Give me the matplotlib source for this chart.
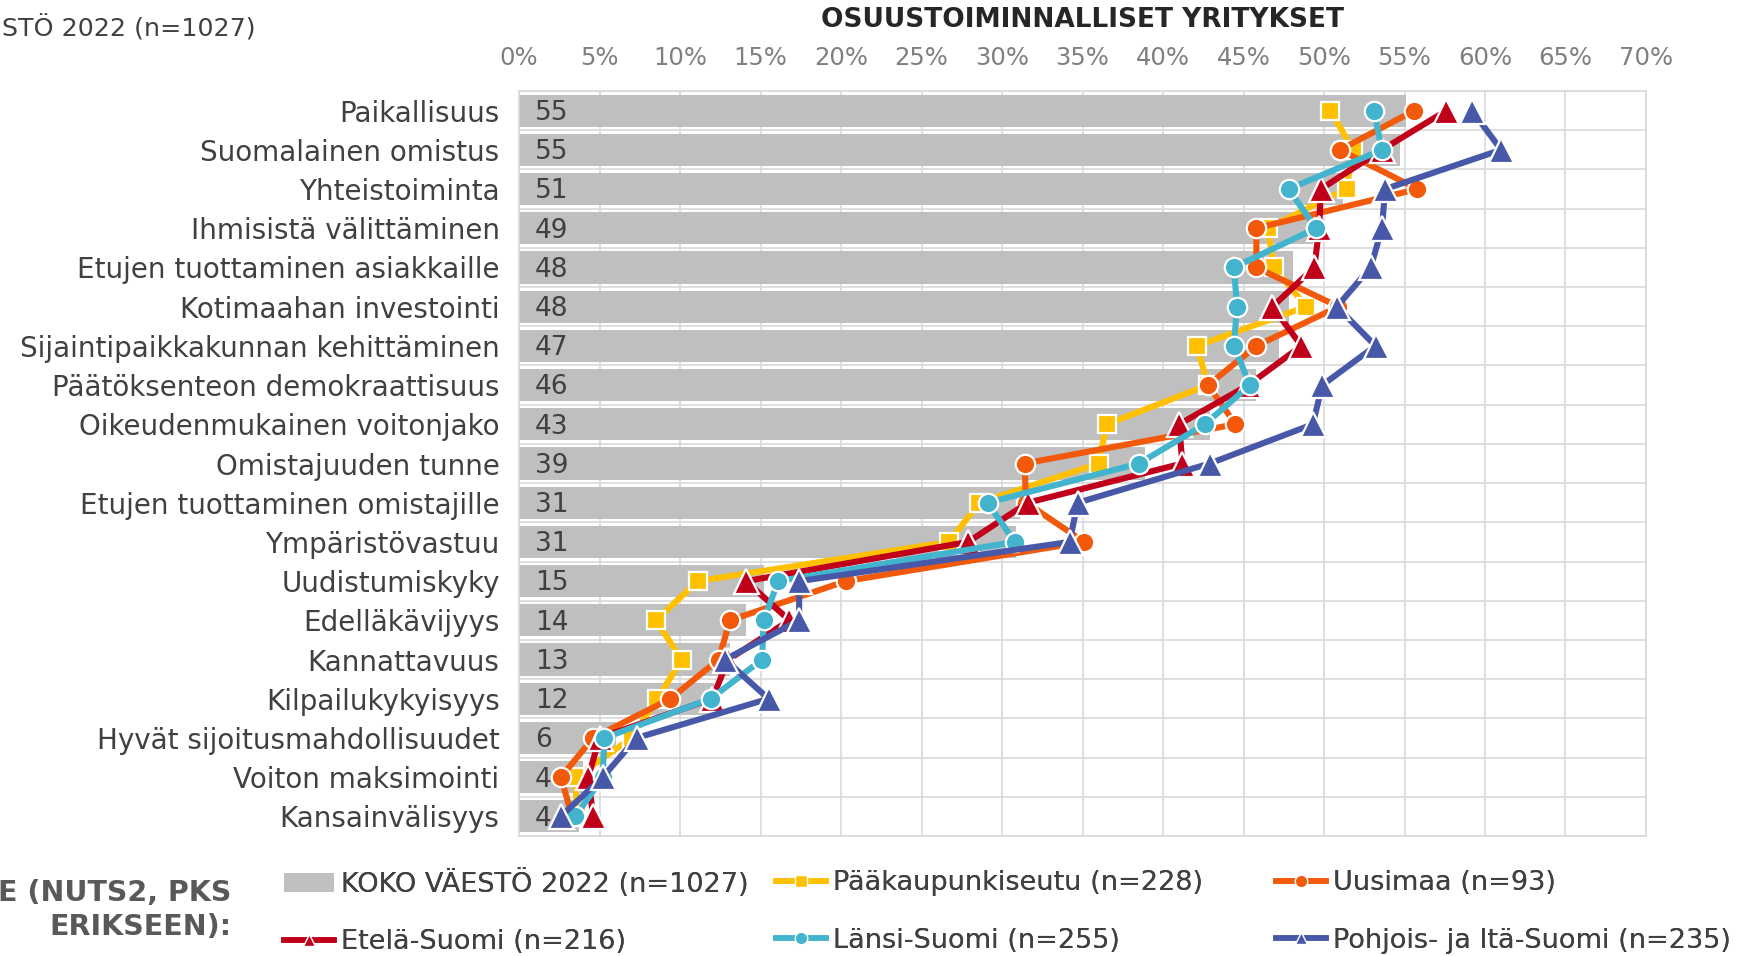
import numpy as np
import matplotlib
matplotlib.use("Agg")
import matplotlib.pyplot as plt
from matplotlib.lines import Line2D
from matplotlib.patches import Patch

plt.rcParams['font.family'] = ['DejaVu Sans']

categories = [
    "Paikallisuus", "Suomalainen omistus", "Yhteistoiminta", "Ihmisistä välittäminen",
    "Etujen tuottaminen asiakkaille", "Kotimaahan investointi",
    "Sijaintipaikkakunnan kehittäminen", "Päätöksenteon demokraattisuus",
    "Oikeudenmukainen voitonjako", "Omistajuuden tunne",
    "Etujen tuottaminen omistajille", "Ympäristövastuu", "Uudistumiskyky",
    "Edelläkävijyys", "Kannattavuus", "Kilpailukykyisyys",
    "Hyvät sijoitusmahdollisuudet", "Voiton maksimointi", "Kansainvälisyys",
]
koko = [55.1, 54.7, 51.2, 49.3, 48.1, 47.8, 47.2, 45.8, 42.9, 38.9, 31.1, 30.9,
        15.2, 14.1, 13.1, 12.1, 6.0, 4.0, 3.7]
pks = [50.4, 51.8, 51.4, 46.5, 46.9, 48.9, 42.1, 42.8, 36.5, 36.0, 28.6, 26.7,
       11.1, 8.5, 10.1, 8.6, 7.0, 3.5, 3.6]
uusimaa = [55.6, 51.0, 55.8, 45.8, 45.8, 50.9, 45.8, 42.8, 44.5, 31.4, 31.5, 35.1,
           20.3, 13.1, 12.4, 9.4, 4.6, 2.6, 3.3]
etela = [57.6, 53.6, 49.8, 49.7, 49.4, 46.8, 48.6, 45.3, 41.0, 41.2, 31.6, 27.9,
         14.1, 16.8, 13.0, 12.0, 5.0, 4.3, 4.6]
lansi = [53.1, 53.6, 47.8, 49.5, 44.4, 44.6, 44.4, 45.4, 42.6, 38.5, 29.1, 30.8,
         16.1, 15.2, 15.1, 11.9, 5.3, 5.2, 3.5]
pohjois = [59.2, 61.0, 53.8, 53.6, 52.9, 50.8, 53.2, 49.9, 49.3, 42.9, 34.7, 34.2,
           17.4, 17.4, 12.8, 15.5, 7.3, 5.2, 2.6]
xticks = list(range(0, 75, 5))

series = [
    ("Pääkaupunkiseutu (n=228)", pks, "#FFC000", "s"),
    ("Uusimaa (n=93)", uusimaa, "#F2590B", "o"),
    ("Etelä-Suomi (n=216)", etela, "#C0001B", "^"),
    ("Länsi-Suomi (n=255)", lansi, "#42B4CE", "o"),
    ("Pohjois- ja Itä-Suomi (n=235)", pohjois, "#4858A9", "^"),
]
msize = {"s": 12.5, "o": 14, "^": 18}

W, H = 1747, 956
fig = plt.figure(figsize=(W / 100, H / 100), dpi=100)
left, right, top, bottom = 519, 1646, 91, 836
ax = fig.add_axes([left / W, 1 - bottom / H, (right - left) / W, (bottom - top) / H])

n = len(categories)
y = np.arange(n)
grid_c = "#D9D9D9"
for b in np.arange(-0.5, n, 1.0):
    ax.axhline(b, color=grid_c, lw=1.2, zorder=0)
ax.barh(y, koko, height=0.82, color="#BFBFBF", zorder=1)
for yi, v in zip(y, koko):
    ax.text(1.0, yi + 0.06, f"{v:.0f}", ha="left", va="center", fontsize=19,
            color="#404040", zorder=2)

for name, vals, col, mk in series:
    ax.plot(vals, y, color=col, lw=4.4, marker=mk, markersize=msize[mk],
            markerfacecolor=col, markeredgecolor="white", markeredgewidth=1.6,
            zorder=3, solid_joinstyle="round")

ax.set_xlim(0, 70)
ax.set_ylim(n - 0.5, -0.5)
ax.set_xticks(xticks)
ax.set_xticklabels([f"{t}%" for t in xticks])
ax.xaxis.tick_top()
ax.xaxis.grid(True, color=grid_c, lw=1.2, zorder=0)
ax.set_axisbelow(True)
ax.tick_params(axis="x", length=0, pad=15, labelsize=17.5, labelcolor="#7F7F7F")
ax.set_yticks(y)
ax.set_yticklabels(categories)
ax.tick_params(axis="y", length=0, pad=14, labelsize=20, labelcolor="#404040")
for s in ax.spines.values():
    s.set_color(grid_c)
    s.set_linewidth(1.2)

fig.text(1082.5 / W, 1 - 20 / H, "OSUUSTOIMINNALLISET YRITYKSET", ha="center",
         va="center", fontsize=19, fontweight="bold", color="#262626")
fig.text(2 / W, 1 - 28 / H, "STÖ 2022 (n=1027)", ha="left", va="center",
         fontsize=18.3, color="#404040")
fig.text(231 / W, 1 - 893 / H, "E (NUTS2, PKS", ha="right", va="center",
         fontsize=20.5, fontweight="bold", color="#595959")
fig.text(231 / W, 1 - 927 / H, "ERIKSEEN):", ha="right", va="center",
         fontsize=20.5, fontweight="bold", color="#595959")

def lh(col, mk):
    return Line2D([], [], color=col, lw=4, marker=mk, markersize=9,
                  markerfacecolor=col, markeredgecolor="white", markeredgewidth=1.0)

cols = [
    ([Patch(facecolor="#BFBFBF"), lh(series[2][2], series[2][3])],
     ["KOKO VÄESTÖ 2022 (n=1027)", series[2][0]], 284),
    ([lh(series[0][2], series[0][3]), lh(series[3][2], series[3][3])],
     [series[0][0], series[3][0]], 776),
    ([lh(series[1][2], series[1][3]), lh(series[4][2], series[4][3])],
     [series[1][0], series[4][0]], 1276),
]
for hs, ls, x0 in cols:
    leg = fig.legend(hs, ls, loc="center left", bbox_to_anchor=(x0 / W, 1 - 912 / H),
                     frameon=False, fontsize=19.5, handlelength=1.85, handletextpad=0.27,
                     borderpad=0, borderaxespad=0, labelspacing=1.15, labelcolor="#404040")
    fig.add_artist(leg)

fig.savefig("out.png", dpi=100)
